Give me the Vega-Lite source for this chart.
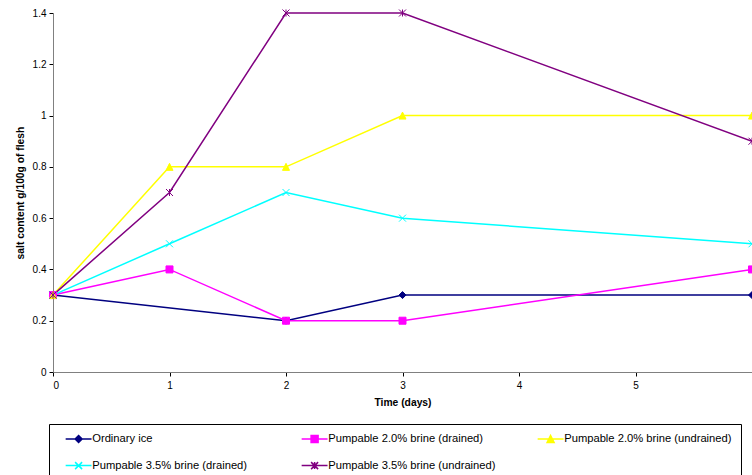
{
  "$schema": "https://vega.github.io/schema/vega-lite/v6.json",
  "autosize": {"type": "none"},
  "padding": {"left": 53, "top": 13, "right": 0, "bottom": 103},
  "width": 699,
  "height": 359,
  "config": {
    "view": {"stroke": null},
    "font": "Liberation Sans",
    "axis": {"grid": false, "domainColor": "#808080", "tickColor": "#000000", "labelColor": "#000000", "titleColor": "#000000", "labelFontSize": 10, "titleFontSize": 10.3, "titleFontWeight": "bold", "tickSize": 4}
  },
  "data": {
    "values": [
      {"series": "Ordinary ice", "day": 0, "salt": 0.3},
      {"series": "Ordinary ice", "day": 2, "salt": 0.2},
      {"series": "Ordinary ice", "day": 3, "salt": 0.3},
      {"series": "Ordinary ice", "day": 6, "salt": 0.3},
      {"series": "Pumpable 2.0% brine (drained)", "day": 0, "salt": 0.3},
      {"series": "Pumpable 2.0% brine (drained)", "day": 1, "salt": 0.4},
      {"series": "Pumpable 2.0% brine (drained)", "day": 2, "salt": 0.2},
      {"series": "Pumpable 2.0% brine (drained)", "day": 3, "salt": 0.2},
      {"series": "Pumpable 2.0% brine (drained)", "day": 6, "salt": 0.4},
      {"series": "Pumpable 2.0% brine (undrained)", "day": 0, "salt": 0.3},
      {"series": "Pumpable 2.0% brine (undrained)", "day": 1, "salt": 0.8},
      {"series": "Pumpable 2.0% brine (undrained)", "day": 2, "salt": 0.8},
      {"series": "Pumpable 2.0% brine (undrained)", "day": 3, "salt": 1.0},
      {"series": "Pumpable 2.0% brine (undrained)", "day": 6, "salt": 1.0},
      {"series": "Pumpable 3.5% brine (drained)", "day": 0, "salt": 0.3},
      {"series": "Pumpable 3.5% brine (drained)", "day": 1, "salt": 0.5},
      {"series": "Pumpable 3.5% brine (drained)", "day": 2, "salt": 0.7},
      {"series": "Pumpable 3.5% brine (drained)", "day": 3, "salt": 0.6},
      {"series": "Pumpable 3.5% brine (drained)", "day": 6, "salt": 0.5},
      {"series": "Pumpable 3.5% brine (undrained)", "day": 0, "salt": 0.3},
      {"series": "Pumpable 3.5% brine (undrained)", "day": 1, "salt": 0.7},
      {"series": "Pumpable 3.5% brine (undrained)", "day": 2, "salt": 1.4},
      {"series": "Pumpable 3.5% brine (undrained)", "day": 3, "salt": 1.4},
      {"series": "Pumpable 3.5% brine (undrained)", "day": 6, "salt": 0.9}
    ]
  },
  "encoding": {
    "x": {
      "field": "day", "type": "quantitative",
      "scale": {"domain": [0, 6], "nice": false, "zero": false},
      "axis": {"values": [0, 1, 2, 3, 4, 5], "title": "Time (days)", "labelPadding": 4, "titlePadding": 7, "format": "d"}
    },
    "y": {
      "field": "salt", "type": "quantitative",
      "scale": {"domain": [0, 1.4], "nice": false},
      "axis": {"values": [0, 0.2, 0.4, 0.6, 0.8, 1, 1.2, 1.4], "format": "~g", "title": "salt content g/100g of flesh", "labelPadding": 3, "titlePadding": 7}
    }
  },
  "layer": [
    {
      "mark": {"type": "line", "strokeWidth": 1.5},
      "encoding": {
        "color": {
          "field": "series", "type": "nominal",
          "scale": {
            "domain": ["Ordinary ice", "Pumpable 2.0% brine (drained)", "Pumpable 2.0% brine (undrained)", "Pumpable 3.5% brine (drained)", "Pumpable 3.5% brine (undrained)"],
            "range": ["#000080", "#FF00FF", "#FFFF00", "#00FFFF", "#800080"]
          },
          "legend": {
            "title": null,
            "orient": "none",
            "legendX": -4,
            "legendY": 411,
            "direction": "horizontal",
            "columns": 3,
            "gridAlign": "all",
            "columnPadding": 34,
            "rowPadding": 13,
            "padding": 9,
            "strokeColor": "#000000",
            "fillColor": "#ffffff",
            "labelFontSize": 11.2,
            "labelColor": "#000000",
            "labelLimit": 300,
            "symbolSize": 49,
            "symbolOffset": 15,
            "labelOffset": 8,
            "symbolStrokeWidth": 1.5,
            "encode": {
              "symbols": {
                "update": {
                  "shape": {"signal": "datum.value === 'Ordinary ice' ? 'M-3.7,0H3.7M0,-1L1,0L0,1L-1,0Z' : datum.value === 'Pumpable 2.0% brine (drained)' ? 'M-3.7,0H3.7M-1,-1H1V1H-1Z' : datum.value === 'Pumpable 2.0% brine (undrained)' ? 'M-3.7,0H3.7M0,-1L1,1H-1Z' : datum.value === 'Pumpable 3.5% brine (drained)' ? 'M-3.7,0H3.7M-1,-1L1,1M-1,1L1,-1' : 'M-3.7,0H3.7M-1,-1L1,1M-1,1L1,-1M0,-1V1'"},
                  "fill": {"scale": "color", "field": "value"},
                  "stroke": {"scale": "color", "field": "value"},
                  "strokeWidth": {"value": 1.5},
                  "opacity": {"value": 1}
                }
              }
            }
          }
        }
      }
    },
    {
      "transform": [{"filter": "datum.series === 'Ordinary ice'"}],
      "mark": {"type": "point", "shape": "M0,-1L1,0L0,1L-1,0Z", "filled": true, "size": 49, "opacity": 1, "strokeWidth": 1, "color": "#000080", "stroke": "#000080"}
    },
    {
      "transform": [{"filter": "datum.series === 'Pumpable 2.0% brine (drained)'"}],
      "mark": {"type": "point", "shape": "M-1,-1H1V1H-1Z", "filled": true, "size": 49, "opacity": 1, "strokeWidth": 1, "color": "#FF00FF", "stroke": "#FF00FF"}
    },
    {
      "transform": [{"filter": "datum.series === 'Pumpable 2.0% brine (undrained)'"}],
      "mark": {"type": "point", "shape": "M0,-1L1,1H-1Z", "filled": true, "size": 49, "opacity": 1, "strokeWidth": 1, "color": "#FFFF00", "stroke": "#FFFF00"}
    },
    {
      "transform": [{"filter": "datum.series === 'Pumpable 3.5% brine (drained)'"}],
      "mark": {"type": "point", "shape": "M-1,-1L1,1M-1,1L1,-1", "filled": false, "size": 49, "opacity": 1, "strokeWidth": 1, "color": "#00FFFF", "stroke": "#00FFFF"}
    },
    {
      "transform": [{"filter": "datum.series === 'Pumpable 3.5% brine (undrained)'"}],
      "mark": {"type": "point", "shape": "M-1,-1L1,1M-1,1L1,-1M0,-1V1", "filled": false, "size": 49, "opacity": 1, "strokeWidth": 1, "color": "#800080", "stroke": "#800080"}
    }
  ]
}
